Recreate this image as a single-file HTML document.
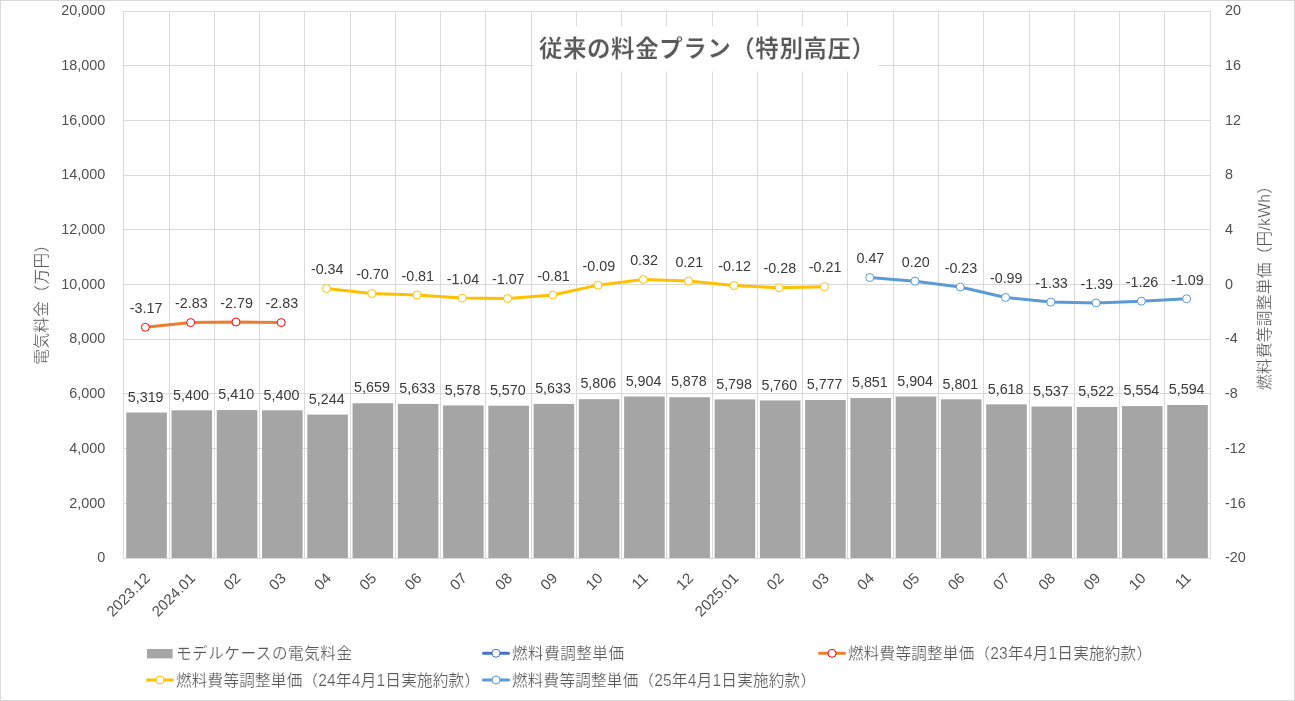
<!DOCTYPE html>
<html lang="ja"><head><meta charset="utf-8"><title>従来の料金プラン（特別高圧）</title>
<style>html,body{margin:0;padding:0;background:#fff}body{width:1295px;height:701px;overflow:hidden}svg{display:block}text{font-family:"Liberation Sans", "Noto Sans CJK JP", sans-serif}
.ax{font-size:14.4px;fill:#505050}.xl{font-size:15px;fill:#505050}.dl{font-size:14.3px;fill:#3a3a3a}.lg{font-size:15.6px;fill:#595959;stroke:#fff;stroke-width:0.2px}.at{font-size:15.7px;fill:#595959;stroke:#fff;stroke-width:0.2px}.g{stroke:#d9d9d9;stroke-width:1;shape-rendering:crispEdges}</style></head><body>
<svg width="1295" height="701" viewBox="0 0 1295 701">
<rect x="0" y="0" width="1295" height="701" fill="#fff"/>
<rect x="0.5" y="0.5" width="1294" height="700" fill="none" stroke="#d9d9d9" stroke-width="1"/>
<g class="g">
<line x1="123.0" y1="11.5" x2="1211.0" y2="11.5"/>
<line x1="123.0" y1="65.5" x2="1211.0" y2="65.5"/>
<line x1="123.0" y1="120.5" x2="1211.0" y2="120.5"/>
<line x1="123.0" y1="175.5" x2="1211.0" y2="175.5"/>
<line x1="123.0" y1="229.5" x2="1211.0" y2="229.5"/>
<line x1="123.0" y1="284.5" x2="1211.0" y2="284.5"/>
<line x1="123.0" y1="339.5" x2="1211.0" y2="339.5"/>
<line x1="123.0" y1="393.5" x2="1211.0" y2="393.5"/>
<line x1="123.0" y1="448.5" x2="1211.0" y2="448.5"/>
<line x1="123.0" y1="503.5" x2="1211.0" y2="503.5"/>
<line x1="123.0" y1="558.5" x2="1211.0" y2="558.5"/>
<line x1="123.5" y1="11.0" x2="123.5" y2="559.0"/>
<line x1="169.5" y1="11.0" x2="169.5" y2="559.0"/>
<line x1="214.5" y1="11.0" x2="214.5" y2="559.0"/>
<line x1="259.5" y1="11.0" x2="259.5" y2="559.0"/>
<line x1="304.5" y1="11.0" x2="304.5" y2="559.0"/>
<line x1="350.5" y1="11.0" x2="350.5" y2="559.0"/>
<line x1="395.5" y1="11.0" x2="395.5" y2="559.0"/>
<line x1="440.5" y1="11.0" x2="440.5" y2="559.0"/>
<line x1="485.5" y1="11.0" x2="485.5" y2="559.0"/>
<line x1="531.5" y1="11.0" x2="531.5" y2="559.0"/>
<line x1="576.5" y1="11.0" x2="576.5" y2="559.0"/>
<line x1="621.5" y1="11.0" x2="621.5" y2="559.0"/>
<line x1="666.5" y1="11.0" x2="666.5" y2="559.0"/>
<line x1="712.5" y1="11.0" x2="712.5" y2="559.0"/>
<line x1="757.5" y1="11.0" x2="757.5" y2="559.0"/>
<line x1="802.5" y1="11.0" x2="802.5" y2="559.0"/>
<line x1="847.5" y1="11.0" x2="847.5" y2="559.0"/>
<line x1="893.5" y1="11.0" x2="893.5" y2="559.0"/>
<line x1="938.5" y1="11.0" x2="938.5" y2="559.0"/>
<line x1="983.5" y1="11.0" x2="983.5" y2="559.0"/>
<line x1="1029.5" y1="11.0" x2="1029.5" y2="559.0"/>
<line x1="1074.5" y1="11.0" x2="1074.5" y2="559.0"/>
<line x1="1119.5" y1="11.0" x2="1119.5" y2="559.0"/>
<line x1="1164.5" y1="11.0" x2="1164.5" y2="559.0"/>
<line x1="1210.5" y1="11.0" x2="1210.5" y2="559.0"/>
</g>
<rect x="533.6" y="26" width="344.8" height="45.5" fill="#fff"/>
<text x="707" y="57" text-anchor="middle" font-size="23.5" font-weight="bold" fill="#595959" stroke="#fff" stroke-width="0.25" textLength="336" lengthAdjust="spacing">従来の料金プラン（特別高圧）</text>
<g fill="#a5a5a5">
<rect x="126.25" y="412.53" width="40.60" height="145.47"/>
<rect x="171.51" y="410.31" width="40.60" height="147.69"/>
<rect x="216.77" y="410.04" width="40.60" height="147.96"/>
<rect x="262.03" y="410.31" width="40.60" height="147.69"/>
<rect x="307.29" y="414.58" width="40.60" height="143.42"/>
<rect x="352.55" y="403.23" width="40.60" height="154.77"/>
<rect x="397.81" y="403.94" width="40.60" height="154.06"/>
<rect x="443.07" y="405.44" width="40.60" height="152.56"/>
<rect x="488.33" y="405.66" width="40.60" height="152.34"/>
<rect x="533.59" y="403.94" width="40.60" height="154.06"/>
<rect x="578.85" y="399.21" width="40.60" height="158.79"/>
<rect x="624.11" y="396.53" width="40.60" height="161.47"/>
<rect x="669.37" y="397.24" width="40.60" height="160.76"/>
<rect x="714.63" y="399.42" width="40.60" height="158.58"/>
<rect x="759.89" y="400.46" width="40.60" height="157.54"/>
<rect x="805.15" y="400.00" width="40.60" height="158.00"/>
<rect x="850.41" y="397.98" width="40.60" height="160.02"/>
<rect x="895.67" y="396.53" width="40.60" height="161.47"/>
<rect x="940.93" y="399.34" width="40.60" height="158.66"/>
<rect x="986.19" y="404.35" width="40.60" height="153.65"/>
<rect x="1031.45" y="406.56" width="40.60" height="151.44"/>
<rect x="1076.71" y="406.97" width="40.60" height="151.03"/>
<rect x="1121.97" y="406.10" width="40.60" height="151.90"/>
<rect x="1167.23" y="405.00" width="40.60" height="153.00"/>
</g>
<g class="dl" text-anchor="middle">
<text x="145.70" y="401.73">5,319</text>
<text x="190.96" y="399.51">5,400</text>
<text x="236.22" y="399.24">5,410</text>
<text x="281.48" y="399.51">5,400</text>
<text x="326.74" y="403.78">5,244</text>
<text x="372.00" y="392.43">5,659</text>
<text x="417.26" y="393.14">5,633</text>
<text x="462.52" y="394.64">5,578</text>
<text x="507.78" y="394.86">5,570</text>
<text x="553.04" y="393.14">5,633</text>
<text x="598.30" y="388.41">5,806</text>
<text x="643.56" y="385.73">5,904</text>
<text x="688.82" y="386.44">5,878</text>
<text x="734.08" y="388.62">5,798</text>
<text x="779.34" y="389.66">5,760</text>
<text x="824.60" y="389.20">5,777</text>
<text x="869.86" y="387.18">5,851</text>
<text x="915.12" y="385.73">5,904</text>
<text x="960.38" y="388.54">5,801</text>
<text x="1005.64" y="393.55">5,618</text>
<text x="1050.90" y="395.76">5,537</text>
<text x="1096.16" y="396.17">5,522</text>
<text x="1141.42" y="395.30">5,554</text>
<text x="1186.68" y="394.20">5,594</text>
</g>
<polyline points="145.40,327.25 190.67,322.60 235.94,322.05 281.21,322.60" fill="none" stroke="#ed7d31" stroke-width="3" stroke-linejoin="round" stroke-linecap="round"/>
<g fill="#fff" stroke="#ff0000" stroke-width="1">
<circle cx="145.40" cy="327.25" r="4"/>
<circle cx="190.67" cy="322.60" r="4"/>
<circle cx="235.94" cy="322.05" r="4"/>
<circle cx="281.21" cy="322.60" r="4"/>
</g>
<g class="dl" text-anchor="middle">
<text x="146.10" y="312.95">-3.17</text>
<text x="191.37" y="308.30">-2.83</text>
<text x="236.64" y="307.75">-2.79</text>
<text x="281.91" y="308.30">-2.83</text>
</g>
<polyline points="326.48,288.55 371.75,293.47 417.02,294.98 462.29,298.12 507.56,298.53 552.83,294.98 598.10,285.13 643.37,279.52 688.64,281.03 733.91,285.54 779.18,287.73 824.45,286.77" fill="none" stroke="#ffc000" stroke-width="3" stroke-linejoin="round" stroke-linecap="round"/>
<g fill="#fff" stroke="#ffc000" stroke-width="1">
<circle cx="326.48" cy="288.55" r="4"/>
<circle cx="371.75" cy="293.47" r="4"/>
<circle cx="417.02" cy="294.98" r="4"/>
<circle cx="462.29" cy="298.12" r="4"/>
<circle cx="507.56" cy="298.53" r="4"/>
<circle cx="552.83" cy="294.98" r="4"/>
<circle cx="598.10" cy="285.13" r="4"/>
<circle cx="643.37" cy="279.52" r="4"/>
<circle cx="688.64" cy="281.03" r="4"/>
<circle cx="733.91" cy="285.54" r="4"/>
<circle cx="779.18" cy="287.73" r="4"/>
<circle cx="824.45" cy="286.77" r="4"/>
</g>
<g class="dl" text-anchor="middle">
<text x="327.18" y="274.25">-0.34</text>
<text x="372.45" y="279.17">-0.70</text>
<text x="417.72" y="280.68">-0.81</text>
<text x="462.99" y="283.82">-1.04</text>
<text x="508.26" y="284.23">-1.07</text>
<text x="553.53" y="280.68">-0.81</text>
<text x="598.80" y="270.83">-0.09</text>
<text x="644.07" y="265.22">0.32</text>
<text x="689.34" y="266.73">0.21</text>
<text x="734.61" y="271.24">-0.12</text>
<text x="779.88" y="273.43">-0.28</text>
<text x="825.15" y="272.47">-0.21</text>
</g>
<polyline points="869.72,277.47 914.99,281.16 960.26,287.05 1005.53,297.44 1050.80,302.09 1096.07,302.91 1141.34,301.13 1186.61,298.81" fill="none" stroke="#5b9bd5" stroke-width="3" stroke-linejoin="round" stroke-linecap="round"/>
<g fill="#fff" stroke="#5b9bd5" stroke-width="1">
<circle cx="869.72" cy="277.47" r="4"/>
<circle cx="914.99" cy="281.16" r="4"/>
<circle cx="960.26" cy="287.05" r="4"/>
<circle cx="1005.53" cy="297.44" r="4"/>
<circle cx="1050.80" cy="302.09" r="4"/>
<circle cx="1096.07" cy="302.91" r="4"/>
<circle cx="1141.34" cy="301.13" r="4"/>
<circle cx="1186.61" cy="298.81" r="4"/>
</g>
<g class="dl" text-anchor="middle">
<text x="870.42" y="263.17">0.47</text>
<text x="915.69" y="266.86">0.20</text>
<text x="960.96" y="272.75">-0.23</text>
<text x="1006.23" y="283.14">-0.99</text>
<text x="1051.50" y="287.79">-1.33</text>
<text x="1096.77" y="288.61">-1.39</text>
<text x="1142.04" y="286.83">-1.26</text>
<text x="1187.31" y="284.51">-1.09</text>
</g>
<g class="ax" text-anchor="end">
<text x="105.3" y="15.20">20,000</text>
<text x="105.3" y="69.90">18,000</text>
<text x="105.3" y="124.60">16,000</text>
<text x="105.3" y="179.30">14,000</text>
<text x="105.3" y="234.00">12,000</text>
<text x="105.3" y="288.70">10,000</text>
<text x="105.3" y="343.40">8,000</text>
<text x="105.3" y="398.10">6,000</text>
<text x="105.3" y="452.80">4,000</text>
<text x="105.3" y="507.50">2,000</text>
<text x="105.3" y="562.20">0</text>
</g>
<g class="ax" text-anchor="start">
<text x="1224.9" y="15.20">20</text>
<text x="1224.9" y="69.90">16</text>
<text x="1224.9" y="124.60">12</text>
<text x="1224.9" y="179.30">8</text>
<text x="1224.9" y="234.00">4</text>
<text x="1224.9" y="288.70">0</text>
<text x="1224.9" y="343.40">-4</text>
<text x="1224.9" y="398.10">-8</text>
<text x="1224.9" y="452.80">-12</text>
<text x="1224.9" y="507.50">-16</text>
<text x="1224.9" y="562.20">-20</text>
</g>
<g class="xl" text-anchor="end">
<text transform="translate(151.00,579.10) rotate(-45)">2023.12</text>
<text transform="translate(196.26,579.10) rotate(-45)">2024.01</text>
<text transform="translate(241.52,579.10) rotate(-45)">02</text>
<text transform="translate(286.78,579.10) rotate(-45)">03</text>
<text transform="translate(332.04,579.10) rotate(-45)">04</text>
<text transform="translate(377.30,579.10) rotate(-45)">05</text>
<text transform="translate(422.56,579.10) rotate(-45)">06</text>
<text transform="translate(467.82,579.10) rotate(-45)">07</text>
<text transform="translate(513.08,579.10) rotate(-45)">08</text>
<text transform="translate(558.34,579.10) rotate(-45)">09</text>
<text transform="translate(603.60,579.10) rotate(-45)">10</text>
<text transform="translate(648.86,579.10) rotate(-45)">11</text>
<text transform="translate(694.12,579.10) rotate(-45)">12</text>
<text transform="translate(739.38,579.10) rotate(-45)">2025.01</text>
<text transform="translate(784.64,579.10) rotate(-45)">02</text>
<text transform="translate(829.90,579.10) rotate(-45)">03</text>
<text transform="translate(875.16,579.10) rotate(-45)">04</text>
<text transform="translate(920.42,579.10) rotate(-45)">05</text>
<text transform="translate(965.68,579.10) rotate(-45)">06</text>
<text transform="translate(1010.94,579.10) rotate(-45)">07</text>
<text transform="translate(1056.20,579.10) rotate(-45)">08</text>
<text transform="translate(1101.46,579.10) rotate(-45)">09</text>
<text transform="translate(1146.72,579.10) rotate(-45)">10</text>
<text transform="translate(1191.98,579.10) rotate(-45)">11</text>
</g>
<text class="at" transform="translate(46.5,364.8) rotate(-90)" textLength="128" lengthAdjust="spacing">電気料金（万円）</text>
<text class="at" transform="translate(1270,390) rotate(-90)" textLength="212" lengthAdjust="spacing">燃料費等調整単価（円/kWh）</text>
<rect x="147" y="649" width="25.6" height="9.4" fill="#a5a5a5"/>
<text class="lg" x="176" y="659" textLength="176" lengthAdjust="spacing">モデルケースの電気料金</text>
<line x1="483.5" y1="653.3" x2="508.5" y2="653.3" stroke="#4472c4" stroke-width="3" stroke-linecap="round"/>
<circle cx="496.0" cy="653.3" r="4" fill="#fff" stroke="#4472c4" stroke-width="1"/>
<text class="lg" x="512" y="659" textLength="112" lengthAdjust="spacing">燃料費調整単価</text>
<line x1="819.5" y1="653.3" x2="844.5" y2="653.3" stroke="#ed7d31" stroke-width="3" stroke-linecap="round"/>
<circle cx="832.0" cy="653.3" r="4" fill="#fff" stroke="#ff0000" stroke-width="1"/>
<text class="lg" x="848" y="659" textLength="304" lengthAdjust="spacing">燃料費等調整単価（23年4月1日実施約款）</text>
<line x1="147.5" y1="680.0" x2="172.5" y2="680.0" stroke="#ffc000" stroke-width="3" stroke-linecap="round"/>
<circle cx="160.0" cy="680.0" r="4" fill="#fff" stroke="#ffc000" stroke-width="1"/>
<text class="lg" x="176" y="686" textLength="304" lengthAdjust="spacing">燃料費等調整単価（24年4月1日実施約款）</text>
<line x1="483.5" y1="680.0" x2="508.5" y2="680.0" stroke="#5b9bd5" stroke-width="3" stroke-linecap="round"/>
<circle cx="496.0" cy="680.0" r="4" fill="#fff" stroke="#5b9bd5" stroke-width="1"/>
<text class="lg" x="512" y="686" textLength="304" lengthAdjust="spacing">燃料費等調整単価（25年4月1日実施約款）</text>
</svg></body></html>
